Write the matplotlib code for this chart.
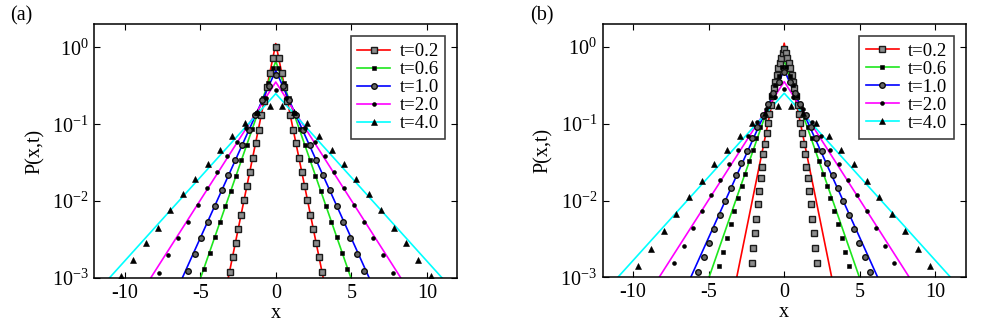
import numpy as np
import matplotlib
matplotlib.use("Agg")
import matplotlib.pyplot as plt
from matplotlib.lines import Line2D
from matplotlib.ticker import LogLocator, LogFormatterMathtext, NullLocator

plt.rcParams['font.family'] = ['Liberation Serif', 'DejaVu Serif']
plt.rcParams['mathtext.fontset'] = 'custom'
plt.rcParams['mathtext.rm'] = 'Liberation Serif'
plt.rcParams['axes.unicode_minus'] = False

labels = ['t=0.2', 't=0.6', 't=1.0', 't=2.0', 't=4.0']

# theory lines: (left end, peak, right end)
line_x = [[-3.14, 0, 3.14], [-4.97, 0, 4.97], [-6.18, 0, 6.18],
          [-8.27, 0, 8.27], [-11.0, 0, 11.0]]
line_p = [[1e-3, 1.12, 1e-3], [1e-3, 0.66, 1e-3], [1e-3, 0.50, 1e-3],
          [1e-3, 0.354, 1e-3], [1e-3, 0.25, 1e-3]]

# ---- panel (a) simulation points (x, log10 P) ----
xa_02 = [-3.04, -2.85, -2.66, -2.47, -2.28, -2.09, -1.90, -1.71, -1.52, -1.33, -1.14, -0.95, -0.76, -0.57, -0.38, -0.19,
         0.0, 0.19, 0.38, 0.57, 0.76, 0.95, 1.14, 1.33, 1.52, 1.71, 1.90, 2.09, 2.28, 2.47, 2.66, 2.85, 3.04]
la_02 = [-2.92, -2.73, -2.55, -2.36, -2.18, -1.99, -1.81, -1.62, -1.44, -1.25, -1.07, -0.88, -0.70, -0.51, -0.33, -0.14,
         0.00, -0.14, -0.33, -0.51, -0.70, -0.88, -1.07, -1.25, -1.44, -1.62, -1.81, -1.99, -2.18, -2.36, -2.55, -2.73, -2.92]

xa_06 = [-4.725, -4.375, -4.025, -3.675, -3.325, -2.975, -2.625, -2.275, -1.925, -1.575, -1.225, -0.875, -0.525, -0.175,
         0.175, 0.525, 0.875, 1.225, 1.575, 1.925, 2.275, 2.625, 2.975, 3.325, 3.675, 4.025, 4.375, 4.725]
la_06 = [-2.88, -2.67, -2.47, -2.27, -2.07, -1.87, -1.67, -1.46, -1.27, -1.06, -0.86, -0.66, -0.47, -0.27,
         -0.27, -0.47, -0.66, -0.86, -1.06, -1.27, -1.46, -1.67, -1.87, -2.07, -2.27, -2.47, -2.67, -2.88]

xa_10 = [-5.81, -5.36, -4.92, -4.47, -4.02, -3.58, -3.13, -2.68, -2.24, -1.79, -1.34, -0.894, -0.447,
         0.0, 0.447, 0.894, 1.34, 1.79, 2.24, 2.68, 3.13, 3.58, 4.02, 4.47, 4.92, 5.36, 5.81]
la_10 = [-2.91, -2.69, -2.48, -2.27, -2.06, -1.86, -1.66, -1.46, -1.27, -1.07, -0.88, -0.69, -0.50,
         -0.36, -0.50, -0.69, -0.88, -1.07, -1.27, -1.46, -1.66, -1.86, -2.06, -2.27, -2.48, -2.69, -2.91]

xa_20 = [-7.74, -7.10, -6.45, -5.81, -5.16, -4.52, -3.87, -3.23, -2.58, -1.94, -1.29, -0.645,
         0.0, 0.645, 1.29, 1.94, 2.58, 3.23, 3.87, 4.52, 5.16, 5.81, 6.45, 7.10, 7.74]
la_20 = [-2.93, -2.70, -2.48, -2.27, -2.05, -1.83, -1.62, -1.41, -1.23, -1.05, -0.85, -0.66,
         -0.55, -0.66, -0.85, -1.05, -1.23, -1.41, -1.62, -1.83, -2.05, -2.27, -2.48, -2.70, -2.93]

xa_40 = [-10.25, -9.43, -8.61, -7.79, -6.97, -6.15, -5.33, -4.51, -3.69, -2.87, -2.05, -1.23, -0.41,
         0.41, 1.23, 2.05, 2.87, 3.69, 4.51, 5.33, 6.15, 6.97, 7.79, 8.61, 9.43, 10.25]
la_40 = [-2.97, -2.76, -2.55, -2.35, -2.12, -1.91, -1.71, -1.52, -1.33, -1.15, -0.98, -0.84, -0.76,
         -0.76, -0.84, -0.98, -1.15, -1.33, -1.52, -1.71, -1.91, -2.12, -2.35, -2.55, -2.76, -2.97]

# ---- panel (b) simulation points (x, log10 P) ----
xb_02 = [-2.15, -2.05, -1.95, -1.85, -1.76, -1.66, -1.56, -1.46, -1.37, -1.27, -1.17, -1.07, -0.98, -0.88, -0.78, -0.68,
         -0.59, -0.49, -0.39, -0.29, -0.20, -0.10, 0.0, 0.10, 0.20, 0.29, 0.39, 0.49, 0.59, 0.68, 0.78, 0.88, 0.98,
         1.07, 1.17, 1.27, 1.37, 1.46, 1.56, 1.66, 1.76, 1.85, 1.95, 2.05, 2.15]
lb_02 = [-2.82, -2.62, -2.42, -2.24, -2.05, -1.88, -1.71, -1.56, -1.40, -1.26, -1.12, -0.99, -0.87, -0.75, -0.64, -0.54,
         -0.45, -0.36, -0.28, -0.21, -0.14, -0.08, -0.03, -0.08, -0.14, -0.21, -0.28, -0.36, -0.45, -0.54, -0.64, -0.75, -0.87,
         -0.99, -1.12, -1.26, -1.40, -1.56, -1.71, -1.88, -2.05, -2.24, -2.42, -2.62, -2.82]

xb_06 = [-4.29, -4.04, -3.80, -3.55, -3.31, -3.06, -2.82, -2.57, -2.33, -2.08, -1.84, -1.59, -1.35, -1.10, -0.86, -0.61, -0.37, -0.12,
         0.12, 0.37, 0.61, 0.86, 1.10, 1.35, 1.59, 1.84, 2.08, 2.33, 2.57, 2.82, 3.06, 3.31, 3.55, 3.80, 4.04, 4.29]
lb_06 = [-2.85, -2.67, -2.49, -2.31, -2.14, -1.97, -1.81, -1.65, -1.49, -1.34, -1.19, -1.04, -0.91, -0.77, -0.64, -0.50, -0.38, -0.26,
         -0.26, -0.38, -0.50, -0.64, -0.77, -0.91, -1.04, -1.19, -1.34, -1.49, -1.65, -1.81, -1.97, -2.14, -2.31, -2.49, -2.67, -2.85]

xb_10 = [-5.68, -5.325, -4.97, -4.615, -4.26, -3.905, -3.55, -3.195, -2.84, -2.485, -2.13, -1.775, -1.42, -1.065, -0.71, -0.355,
         0.0, 0.355, 0.71, 1.065, 1.42, 1.775, 2.13, 2.485, 2.84, 3.195, 3.55, 3.905, 4.26, 4.615, 4.97, 5.325, 5.68]
lb_10 = [-2.93, -2.74, -2.55, -2.37, -2.19, -2.01, -1.84, -1.67, -1.51, -1.35, -1.19, -1.04, -0.89, -0.74, -0.60, -0.46,
         -0.33, -0.46, -0.60, -0.74, -0.89, -1.04, -1.19, -1.35, -1.51, -1.67, -1.84, -2.01, -2.19, -2.37, -2.55, -2.74, -2.93]

xb_20 = [-7.26, -6.655, -6.05, -5.445, -4.84, -4.235, -3.63, -3.025, -2.42, -1.815, -1.21, -0.605,
         0.0, 0.605, 1.21, 1.815, 2.42, 3.025, 3.63, 4.235, 4.84, 5.445, 6.05, 6.655, 7.26]
lb_20 = [-2.82, -2.59, -2.36, -2.14, -1.93, -1.73, -1.53, -1.34, -1.16, -0.98, -0.81, -0.65,
         -0.55, -0.65, -0.81, -0.98, -1.16, -1.34, -1.53, -1.73, -1.93, -2.14, -2.36, -2.59, -2.82]

xb_40 = [-9.66, -8.82, -7.98, -7.14, -6.30, -5.46, -4.62, -3.78, -2.94, -2.10, -1.26, -0.42,
         0.42, 1.26, 2.10, 2.94, 3.78, 4.62, 5.46, 6.30, 7.14, 7.98, 8.82, 9.66]
lb_40 = [-2.85, -2.63, -2.40, -2.18, -1.96, -1.74, -1.53, -1.34, -1.16, -0.99, -0.86, -0.77,
         -0.77, -0.86, -0.99, -1.16, -1.34, -1.53, -1.74, -1.96, -2.18, -2.40, -2.63, -2.85]

line_colors = ['#ff0000', '#1ee61e', '#0000ff', '#ff00ff', '#00ffff']
marker_styles = [
    dict(marker='s', ms=4.0, mfc='0.55', mec='0.1', mew=1.0),
    dict(marker='s', ms=2.7, mfc='black', mec='black', mew=0.4),
    dict(marker='o', ms=4.0, mfc='0.4', mec='0.05', mew=1.0),
    dict(marker='o', ms=2.8, mfc='black', mec='black', mew=0.4),
    dict(marker='^', ms=4.4, mfc='black', mec='black', mew=0.4),
]

panels = [
    ('(a)', [(xa_02, la_02), (xa_06, la_06), (xa_10, la_10), (xa_20, la_20), (xa_40, la_40)]),
    ('(b)', [(xb_02, lb_02), (xb_06, lb_06), (xb_10, lb_10), (xb_20, lb_20), (xb_40, lb_40)]),
]

fig = plt.figure(figsize=(9.81, 3.27), dpi=100)
ax_rects = [[0.0961, 0.150, 0.370, 0.776], [0.6144, 0.152, 0.370, 0.775]]
tag_pos = [(0.010, 0.950), (0.540, 0.950)]

for (tag, series), rect, tp in zip(panels, ax_rects, tag_pos):
    ax = fig.add_axes(rect)
    for i, (xs, ls) in enumerate(series):
        ax.plot(line_x[i], line_p[i], color=line_colors[i], lw=1.2, zorder=2)
        ax.plot(xs, 10.0 ** np.array(ls), ls='none', zorder=3, **marker_styles[i])

    ax.set_yscale('log')
    ax.set_xlim(-12, 12)
    ax.set_ylim(1e-3, 2.0)
    ax.set_xticks([-10, -5, 0, 5, 10])
    ax.yaxis.set_major_locator(LogLocator(base=10, numticks=10))
    ax.yaxis.set_major_formatter(LogFormatterMathtext())
    ax.yaxis.set_minor_locator(NullLocator())
    ax.tick_params(direction='in', length=4, width=0.8, top=True, right=True,
                   labelsize=14.5, pad=4)
    for sp in ax.spines.values():
        sp.set_linewidth(1.1)
    ax.set_xlabel('x', fontsize=14.5, labelpad=1)
    ax.set_ylabel('P(x,t)', fontsize=14.5, labelpad=5)

    handles = [Line2D([], [], color=line_colors[i], lw=1.2, **marker_styles[i])
               for i in range(5)]
    leg = ax.legend(handles, labels, loc='upper right', bbox_to_anchor=(0.967, 0.952),
                    borderaxespad=0, fontsize=13.5, numpoints=1, handlelength=1.75,
                    handletextpad=0.5, labelspacing=0.05, borderpad=0.35,
                    fancybox=False, framealpha=1)
    leg.get_frame().set_edgecolor('0.25')
    leg.get_frame().set_linewidth(1.2)

    fig.text(tp[0], tp[1], tag, fontsize=14.5, ha='left', va='center')

fig.savefig('out.png', dpi=100)
